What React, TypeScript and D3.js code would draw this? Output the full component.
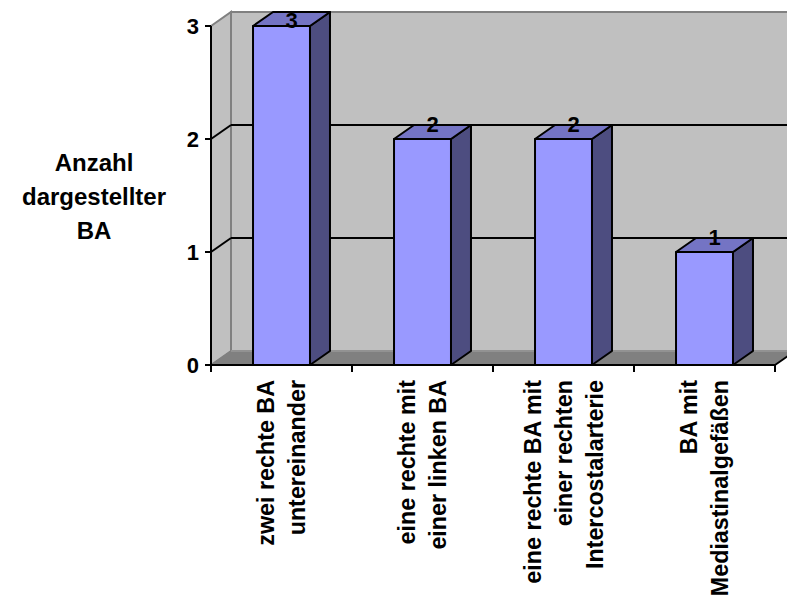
import React from "react";
import * as d3 from "d3";

const categories: string[][] = [
  ["zwei rechte BA", "untereinander"],
  ["eine rechte mit", "einer linken BA"],
  ["eine rechte BA mit", "einer rechten", "Intercostalarterie"],
  ["BA mit", "Mediastinalgefäßen"],
];
const values: number[] = [3, 2, 2, 1];
const yTicks: number[] = [0, 1, 2, 3];
const yTitle: string[] = ["Anzahl", "dargestellter", "BA"];

const W = 787;
const H = 601;
const FONT = "Arial, 'Liberation Sans', Helvetica, sans-serif";

export default function App() {
  const x0 = 211, x1 = 775, yBottom = 365, yTop = 26;
  const dx = 20, dy = -14;
  const keys = categories.map((c) => c.join(" "));
  const band = d3.scaleBand<string>().domain(keys).range([x0, x1]).padding(0);
  const y = d3.scaleLinear().domain([0, 3]).range([yBottom, yTop]);
  const step = band.step();
  const barW = step * 0.404;
  const wallRight = x1 + dx;

  const pts = (arr: [number, number][]) => arr.map((p) => p.join(",")).join(" ");

  return (
    <svg width={W} height={H} style={{ position: "absolute", left: 0, top: 0, background: "#fff" }}>
      {/* back wall */}
      <polygon
        points={pts([[x0 + dx, y(3) + dy], [wallRight, y(3) + dy], [wallRight, y(0) + dy], [x0 + dx, y(0) + dy]])}
        fill="#c0c0c0"
        stroke="#808080"
        strokeWidth={2}
      />
      {/* side wall */}
      <polygon
        points={pts([[x0, y(3)], [x0 + dx, y(3) + dy], [x0 + dx, y(0) + dy], [x0, y(0)]])}
        fill="#c0c0c0"
        stroke="#808080"
        strokeWidth={2}
      />
      {/* gridlines */}
      {yTicks.filter((t) => t > 0 && t < 3).map((t) => (
        <g key={"g" + t}>
          <line x1={x0 + dx} x2={wallRight} y1={y(t) + dy} y2={y(t) + dy} stroke="#000" strokeWidth={2} />
          <line x1={x0} x2={x0 + dx} y1={y(t)} y2={y(t) + dy} stroke="#000" strokeWidth={2} />
        </g>
      ))}
      {/* floor */}
      <polygon
        points={pts([[x0, y(0)], [x0 + dx, y(0) + dy], [wallRight, y(0) + dy], [x1, y(0)]])}
        fill="#808080"
        stroke="#808080"
        strokeWidth={1}
      />
      <line x1={x0 + dx} x2={wallRight} y1={y(0) + dy} y2={y(0) + dy} stroke="#999" strokeWidth={1.5} />
      <line x1={x1} x2={wallRight} y1={y(0)} y2={y(0) + dy} stroke="#000" strokeWidth={2} />
      {/* bars */}
      {values.map((v, i) => {
        const bx = (band(keys[i]) as number) + (step - barW) / 2;
        const by = y(v);
        const b0 = y(0);
        const front = pts([[bx, by], [bx + barW, by], [bx + barW, b0], [bx, b0]]);
        const top = pts([[bx, by], [bx + dx, by + dy], [bx + barW + dx, by + dy], [bx + barW, by]]);
        const side = pts([[bx + barW, by], [bx + barW + dx, by + dy], [bx + barW + dx, b0 + dy], [bx + barW, b0]]);
        return (
          <g key={"b" + i} stroke="#000" strokeWidth={2} strokeLinejoin="round">
            <polygon points={side} fill="#4d4d80" />
            <polygon points={top} fill="#7474c4" />
            <polygon points={front} fill="#9999ff" />
          </g>
        );
      })}
      {/* value labels */}
      {values.map((v, i) => {
        const bx = (band(keys[i]) as number) + (step - barW) / 2;
        const cx = bx + barW / 2 + dx / 2;
        const cy = y(v) + dy / 2;
        return (
          <text
            key={"v" + i}
            x={cx}
            y={Math.max(cy, yTop + 2)}
            textAnchor="middle"
            fontFamily={FONT}
            fontWeight="bold"
            fontSize={22}
            fill="#000"
          >
            {v}
          </text>
        );
      })}
      {/* y axis */}
      <line x1={x0} x2={x0} y1={y(3)} y2={y(0)} stroke="#000" strokeWidth={2} />
      {yTicks.map((t) => (
        <g key={"yt" + t}>
          <line x1={x0 - 6} x2={x0} y1={y(t)} y2={y(t)} stroke="#000" strokeWidth={2} />
          <text
            x={x0 - 12}
            y={y(t)}
            dy="0.36em"
            textAnchor="end"
            fontFamily={FONT}
            fontWeight="bold"
            fontSize={22}
          >
            {t}
          </text>
        </g>
      ))}
      {/* x axis */}
      <line x1={x0} x2={x1} y1={y(0)} y2={y(0)} stroke="#000" strokeWidth={2} />
      {[...keys.map((k) => band(k) as number), x1].map((tx, i) => (
        <line key={"xt" + i} x1={tx} x2={tx} y1={y(0)} y2={y(0) + 7} stroke="#000" strokeWidth={2} />
      ))}
      {/* category labels */}
      {categories.map((lines, i) => {
        const c = (band(keys[i]) as number) + step / 2;
        const n = lines.length;
        return lines.map((ln, j) => (
          <text
            key={"c" + i + "_" + j}
            transform={`translate(${c + (j - (n - 1) / 2) * 31},380) rotate(-90)`}
            dy="0.35em"
            textAnchor="end"
            fontFamily={FONT}
            fontWeight="bold"
            fontSize={23.3}
          >
            {ln}
          </text>
        ));
      })}
      {/* y title */}
      {yTitle.map((ln, j) => (
        <text
          key={"yt_" + j}
          x={94}
          y={197 + (j - 1) * 34}
          dy="0.35em"
          textAnchor="middle"
          fontFamily={FONT}
          fontWeight="bold"
          fontSize={24}
        >
          {ln}
        </text>
      ))}
    </svg>
  );
}
